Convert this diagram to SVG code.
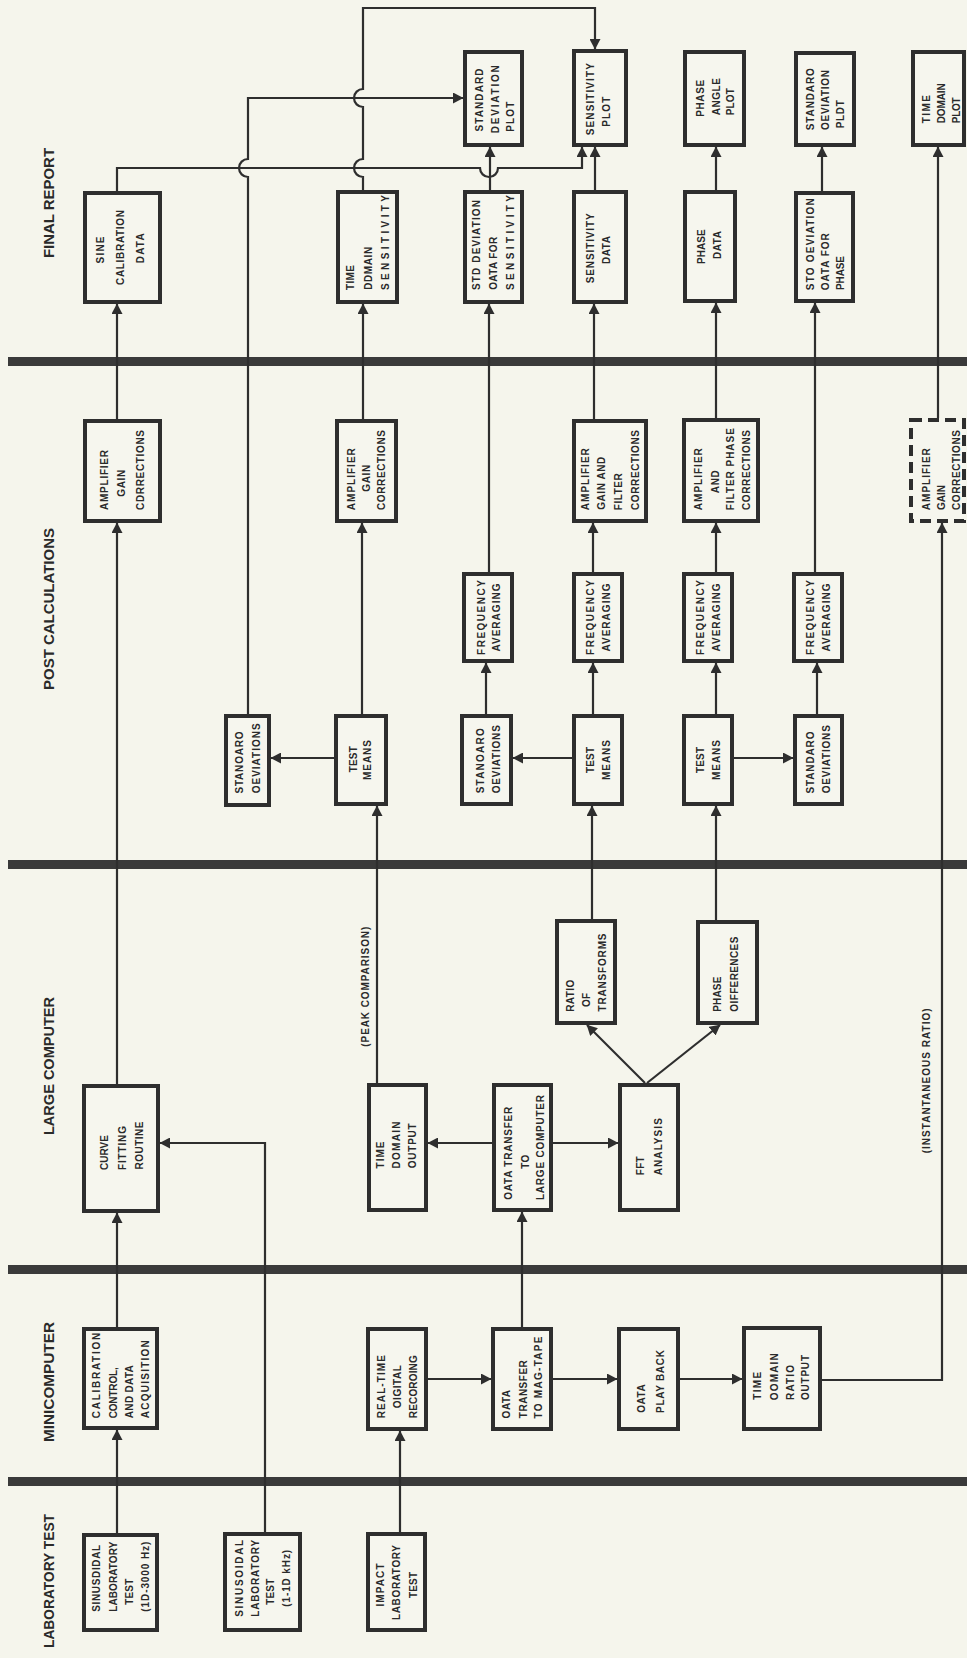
<svg xmlns="http://www.w3.org/2000/svg" width="967" height="1658" viewBox="0 0 967 1658">
<style>
.bg{fill:#f5f5ec}
.bar{fill:#3a3a3a}
.box{fill:#f6f6ee;stroke:#2e2e2e;stroke-width:4}
.dash{stroke-dasharray:11 6}
.t{font-family:"Liberation Sans",Arial,sans-serif;font-weight:bold;font-size:10px;fill:#2a2a2a;text-anchor:middle}
.lane{font-size:14.5px}
.c{fill:none;stroke:#2e2e2e;stroke-width:2.2;marker-end:url(#ah)}
</style>
<defs>
<marker id="ah" viewBox="0 0 11 11" refX="10" refY="5.5" markerWidth="11" markerHeight="11" markerUnits="userSpaceOnUse" orient="auto"><path d="M0,0 L10.5,5.5 L0,11 z" fill="#2e2e2e"/></marker>
</defs>
<rect class="bg" x="0" y="0" width="967" height="1658"/>
<g id="lanes">
<rect class="bar" x="8" y="357" width="959" height="9"/>
<rect class="bar" x="8" y="860" width="959" height="9"/>
<rect class="bar" x="8" y="1265" width="959" height="9"/>
<rect class="bar" x="8" y="1477" width="959" height="9"/>
<text class="t lane" transform="translate(54.3,203) rotate(-90)" textLength="110" lengthAdjust="spacingAndGlyphs">FINAL REPORT</text>
<text class="t lane" transform="translate(54.3,609) rotate(-90)" textLength="162" lengthAdjust="spacingAndGlyphs">POST CALCULATIONS</text>
<text class="t lane" transform="translate(54.3,1066) rotate(-90)" textLength="138" lengthAdjust="spacingAndGlyphs">LARGE COMPUTER</text>
<text class="t lane" transform="translate(54.3,1382) rotate(-90)" textLength="120" lengthAdjust="spacingAndGlyphs">MINICOMPUTER</text>
<text class="t lane" transform="translate(54.3,1581) rotate(-90)" textLength="134" lengthAdjust="spacingAndGlyphs">LABORATORY TEST</text>
</g>
<g id="connectors">
<path class="c" d="M117,1533 V1430"/>
<path class="c" d="M117,1327 V1213"/>
<path class="c" d="M265,1532 V1143 H160"/>
<path class="c" d="M117,1084 V523"/>
<path class="c" d="M117,419 V304"/>
<path class="c" d="M117,191 V168 H480 A9,9 0 0 0 498,168 H582 V147"/>
<path class="c" d="M400,1532 V1431"/>
<path class="c" d="M428,1379 H491"/>
<path class="c" d="M553,1379 H617"/>
<path class="c" d="M680,1379 H742"/>
<path class="c" d="M822,1380 H942 V523"/>
<path class="c" d="M522,1327 V1212"/>
<path class="c" d="M492,1143 H428"/>
<path class="c" d="M553,1143 H618"/>
<path class="c" d="M645,1083 L587,1025"/>
<path class="c" d="M647,1083 L720,1025"/>
<path class="c" d="M377,1083 V806"/>
<path class="c" d="M592,919 V806"/>
<path class="c" d="M716,920 V806"/>
<path class="c" d="M362,714 V523"/>
<path class="c" d="M334,758 H271"/>
<path class="c" d="M363,419 V304"/>
<path class="c" d="M363,190 V177 A9,9 0 0 1 363,159 V107 A9,9 0 0 1 363,89 V8 H595 V49"/>
<path class="c" d="M248,714 V177 A9,9 0 0 1 248,159 V98 H463"/>
<path class="c" d="M486,714 V663"/>
<path class="c" d="M489,572 V304"/>
<path class="c" d="M490,190 V147"/>
<path class="c" d="M572,758 H513"/>
<path class="c" d="M593,714 V663"/>
<path class="c" d="M593,572 V523"/>
<path class="c" d="M594,419 V304"/>
<path class="c" d="M595,190 V147"/>
<path class="c" d="M716,714 V663"/>
<path class="c" d="M716,572 V523"/>
<path class="c" d="M716,418 V303"/>
<path class="c" d="M716,190 V147"/>
<path class="c" d="M734,758 H793"/>
<path class="c" d="M817,714 V663"/>
<path class="c" d="M815,572 V303"/>
<path class="c" d="M822,191 V147"/>
<path class="c" d="M938,418 V147"/>
<text class="t" transform="translate(368.6,986.7) rotate(-90)" textLength="120" lengthAdjust="spacing">(PEAK COMPARISON)</text>
<text class="t" transform="translate(930.3,1080.8) rotate(-90)" textLength="145" lengthAdjust="spacing">(INSTANTANEOUS RATIO)</text>
</g>
<g id="sine-calibration-data"><rect class="box" x="85" y="193" width="75" height="109"/>
<text class="t" transform="translate(103.6,250) rotate(-90)" textLength="27" lengthAdjust="spacing">SINE</text>
<text class="t" transform="translate(124.3,247.5) rotate(-90)" textLength="75" lengthAdjust="spacing">CALIBRATION</text>
<text class="t" transform="translate(143.6,248.3) rotate(-90)" textLength="30" lengthAdjust="spacing">DATA</text></g>
<g id="std-deviation-plot-1"><rect class="box" x="465" y="52" width="57" height="93"/>
<text class="t" transform="translate(482.9,100) rotate(-90)" textLength="63" lengthAdjust="spacing">STANDARD</text>
<text class="t" transform="translate(498.6,99.2) rotate(-90)" textLength="68" lengthAdjust="spacing">DEVIATION</text>
<text class="t" transform="translate(513.6,116.7) rotate(-90)" textLength="30" lengthAdjust="spacing">PLOT</text></g>
<g id="sensitivity-plot"><rect class="box" x="574" y="51" width="52" height="94"/>
<text class="t" transform="translate(593.6,99.2) rotate(-90)" textLength="72" lengthAdjust="spacing">SENSITIVITY</text>
<text class="t" transform="translate(610.3,111.7) rotate(-90)" textLength="30" lengthAdjust="spacing">PLOT</text></g>
<g id="time-domain-sensitivity"><rect class="box" x="338" y="192" width="59" height="110"/>
<text class="t" transform="translate(353.6,277.5) rotate(-90)" textLength="25" lengthAdjust="spacing">TIME</text>
<text class="t" transform="translate(371.9,268.3) rotate(-90)" textLength="43" lengthAdjust="spacing">DDMAIN</text>
<text class="t" transform="translate(388.6,242.5) rotate(-90)" textLength="95" lengthAdjust="spacing">SENSITIVITY</text></g>
<g id="std-deviation-data-sensitivity"><rect class="box" x="465" y="192" width="57" height="110"/>
<text class="t" transform="translate(480.3,245) rotate(-90)" textLength="90" lengthAdjust="spacing">STD DEVIATION</text>
<text class="t" transform="translate(496.9,263.3) rotate(-90)" textLength="53" lengthAdjust="spacing">OATA FOR</text>
<text class="t" transform="translate(513.6,242.5) rotate(-90)" textLength="95" lengthAdjust="spacing">SENSITIVITY</text></g>
<g id="sensitivity-data"><rect class="box" x="574" y="192" width="52" height="110"/>
<text class="t" transform="translate(593.6,248.3) rotate(-90)" textLength="70" lengthAdjust="spacing">SENSITIVITY</text>
<text class="t" transform="translate(609.6,250) rotate(-90)" textLength="28" lengthAdjust="spacing">DATA</text></g>
<g id="phase-angle-plot"><rect class="box" x="685" y="52" width="59" height="93"/>
<text class="t" transform="translate(703.6,98.3) rotate(-90)" textLength="37" lengthAdjust="spacing">PHASE</text>
<text class="t" transform="translate(720.3,96.7) rotate(-90)" textLength="37" lengthAdjust="spacing">ANGLE</text>
<text class="t" transform="translate(733.6,101.7) rotate(-90)" textLength="27" lengthAdjust="spacing">PLOT</text></g>
<g id="std-deviation-plot-2"><rect class="box" x="796" y="53" width="58" height="92"/>
<text class="t" transform="translate(813.6,99.2) rotate(-90)" textLength="62" lengthAdjust="spacing">STANDARO</text>
<text class="t" transform="translate(828.6,100) rotate(-90)" textLength="60" lengthAdjust="spacing">OEVIATION</text>
<text class="t" transform="translate(843.6,114.2) rotate(-90)" textLength="28" lengthAdjust="spacing">PLDT</text></g>
<g id="time-domain-plot"><rect class="box" x="913" y="52" width="51" height="93"/>
<text class="t" transform="translate(929.6,109.2) rotate(-90)" textLength="28" lengthAdjust="spacing">TIME</text>
<text class="t" transform="translate(945.3,103.3) rotate(-90)" textLength="40" lengthAdjust="spacing">DOMAIN</text>
<text class="t" transform="translate(960.1,110.3) rotate(-90)" textLength="26" lengthAdjust="spacing">PLOT</text></g>
<g id="phase-data"><rect class="box" x="685" y="192" width="50" height="109"/>
<text class="t" transform="translate(705.3,246.7) rotate(-90)" textLength="34.5" lengthAdjust="spacing">PHASE</text>
<text class="t" transform="translate(720.9,245) rotate(-90)" textLength="28" lengthAdjust="spacing">DATA</text></g>
<g id="std-deviation-data-phase"><rect class="box" x="796" y="193" width="57" height="108"/>
<text class="t" transform="translate(813.6,244.2) rotate(-90)" textLength="92" lengthAdjust="spacing">STO OEVIATION</text>
<text class="t" transform="translate(828.6,261.7) rotate(-90)" textLength="57" lengthAdjust="spacing">OATA FOR</text>
<text class="t" transform="translate(843.6,273) rotate(-90)" textLength="34" lengthAdjust="spacing">PHASE</text></g>
<g id="amp-gain-corrections-1"><rect class="box" x="85" y="421" width="75" height="100"/>
<text class="t" transform="translate(107.9,480) rotate(-90)" textLength="60" lengthAdjust="spacing">AMPLIFIER</text>
<text class="t" transform="translate(125.3,483.3) rotate(-90)" textLength="27" lengthAdjust="spacing">GAIN</text>
<text class="t" transform="translate(143.6,470) rotate(-90)" textLength="80" lengthAdjust="spacing">CDRRECTIONS</text></g>
<g id="std-deviations-1"><rect class="box" x="226" y="716" width="43" height="89"/>
<text class="t" transform="translate(242.9,762.5) rotate(-90)" textLength="62" lengthAdjust="spacing">STANOARO</text>
<text class="t" transform="translate(260.3,758.3) rotate(-90)" textLength="70" lengthAdjust="spacing">OEVIATIONS</text></g>
<g id="amp-gain-corrections-2"><rect class="box" x="337" y="421" width="59" height="100"/>
<text class="t" transform="translate(355.3,479.2) rotate(-90)" textLength="62" lengthAdjust="spacing">AMPLIFIER</text>
<text class="t" transform="translate(370.3,478.3) rotate(-90)" textLength="27" lengthAdjust="spacing">GAIN</text>
<text class="t" transform="translate(385.3,470) rotate(-90)" textLength="80" lengthAdjust="spacing">CORRECTIONS</text></g>
<g id="test-means-1"><rect class="box" x="336" y="716" width="50" height="88"/>
<text class="t" transform="translate(356.9,759.2) rotate(-90)" textLength="26" lengthAdjust="spacing">TEST</text>
<text class="t" transform="translate(371.3,760) rotate(-90)" textLength="40" lengthAdjust="spacing">MEANS</text></g>
<g id="freq-averaging-1"><rect class="box" x="464" y="574" width="48" height="87"/>
<text class="t" transform="translate(485.3,617.5) rotate(-90)" textLength="75" lengthAdjust="spacing">FREQUENCY</text>
<text class="t" transform="translate(500.3,617.5) rotate(-90)" textLength="68" lengthAdjust="spacing">AVERAGING</text></g>
<g id="std-deviations-2"><rect class="box" x="462" y="716" width="49" height="88"/>
<text class="t" transform="translate(483.6,760.8) rotate(-90)" textLength="65" lengthAdjust="spacing">STANOARO</text>
<text class="t" transform="translate(499.6,759.2) rotate(-90)" textLength="68" lengthAdjust="spacing">OEVIATIONS</text></g>
<g id="freq-averaging-2"><rect class="box" x="574" y="574" width="48" height="87"/>
<text class="t" transform="translate(593.6,617.5) rotate(-90)" textLength="75" lengthAdjust="spacing">FREQUENCY</text>
<text class="t" transform="translate(609.6,617.5) rotate(-90)" textLength="68" lengthAdjust="spacing">AVERAGING</text></g>
<g id="test-means-2"><rect class="box" x="574" y="716" width="48" height="88"/>
<text class="t" transform="translate(593.6,760) rotate(-90)" textLength="26" lengthAdjust="spacing">TEST</text>
<text class="t" transform="translate(609.6,760) rotate(-90)" textLength="40" lengthAdjust="spacing">MEANS</text></g>
<g id="amp-gain-filter-corrections"><rect class="box" x="574" y="421" width="72" height="100"/>
<text class="t" transform="translate(588.6,479.2) rotate(-90)" textLength="62" lengthAdjust="spacing">AMPLIFIER</text>
<text class="t" transform="translate(605.3,483.3) rotate(-90)" textLength="53" lengthAdjust="spacing">GAIN AND</text>
<text class="t" transform="translate(621.9,491.7) rotate(-90)" textLength="37" lengthAdjust="spacing">FILTER</text>
<text class="t" transform="translate(638.6,470) rotate(-90)" textLength="80" lengthAdjust="spacing">CORRECTIONS</text></g>
<g id="amp-filter-phase-corrections"><rect class="box" x="684" y="420" width="74" height="101"/>
<text class="t" transform="translate(701.9,479.2) rotate(-90)" textLength="62" lengthAdjust="spacing">AMPLIFIER</text>
<text class="t" transform="translate(718.6,481.7) rotate(-90)" textLength="23" lengthAdjust="spacing">AND</text>
<text class="t" transform="translate(734.3,469.2) rotate(-90)" textLength="82" lengthAdjust="spacing">FILTER PHASE</text>
<text class="t" transform="translate(749.6,470) rotate(-90)" textLength="80" lengthAdjust="spacing">CORRECTIONS</text></g>
<g id="freq-averaging-3"><rect class="box" x="684" y="574" width="48" height="87"/>
<text class="t" transform="translate(703.6,617.5) rotate(-90)" textLength="75" lengthAdjust="spacing">FREQUENCY</text>
<text class="t" transform="translate(720.3,617.5) rotate(-90)" textLength="68" lengthAdjust="spacing">AVERAGING</text></g>
<g id="test-means-3"><rect class="box" x="684" y="716" width="48" height="88"/>
<text class="t" transform="translate(703.6,760) rotate(-90)" textLength="26" lengthAdjust="spacing">TEST</text>
<text class="t" transform="translate(719.6,760) rotate(-90)" textLength="40" lengthAdjust="spacing">MEANS</text></g>
<g id="freq-averaging-4"><rect class="box" x="794" y="574" width="48" height="87"/>
<text class="t" transform="translate(813.6,617.5) rotate(-90)" textLength="75" lengthAdjust="spacing">FREQUENCY</text>
<text class="t" transform="translate(829.6,617.5) rotate(-90)" textLength="68" lengthAdjust="spacing">AVERAGING</text></g>
<g id="std-deviations-3"><rect class="box" x="795" y="716" width="47" height="88"/>
<text class="t" transform="translate(813.6,762.5) rotate(-90)" textLength="62" lengthAdjust="spacing">STANDARO</text>
<text class="t" transform="translate(830.3,759.2) rotate(-90)" textLength="68" lengthAdjust="spacing">OEVIATIONS</text></g>
<g id="amp-gain-corrections-dashed"><rect class="box dash" x="911" y="420" width="53" height="101"/>
<text class="t" transform="translate(929.6,479.2) rotate(-90)" textLength="62" lengthAdjust="spacing">AMPLIFIER</text>
<text class="t" transform="translate(945.3,497.5) rotate(-90)" textLength="25" lengthAdjust="spacing">GAIN</text>
<text class="t" transform="translate(960.1,470) rotate(-90)" textLength="80" lengthAdjust="spacing">CORRECTIONS</text></g>
<g id="curve-fitting-routine"><rect class="box" x="84" y="1086" width="74" height="125"/>
<text class="t" transform="translate(107.6,1152.5) rotate(-90)" textLength="35" lengthAdjust="spacing">CURVE</text>
<text class="t" transform="translate(126.3,1148) rotate(-90)" textLength="44" lengthAdjust="spacing">FITTING</text>
<text class="t" transform="translate(142.9,1145.5) rotate(-90)" textLength="48" lengthAdjust="spacing">ROUTINE</text></g>
<g id="time-domain-output"><rect class="box" x="369" y="1085" width="57" height="125"/>
<text class="t" transform="translate(384.3,1155) rotate(-90)" textLength="27" lengthAdjust="spacing">TIME</text>
<text class="t" transform="translate(400.3,1145) rotate(-90)" textLength="47" lengthAdjust="spacing">DOMAIN</text>
<text class="t" transform="translate(416.3,1145.8) rotate(-90)" textLength="45" lengthAdjust="spacing">OUTPUT</text></g>
<g id="data-transfer-large-computer"><rect class="box" x="494" y="1085" width="57" height="125"/>
<text class="t" transform="translate(511.9,1153.3) rotate(-90)" textLength="93" lengthAdjust="spacing">OATA TRANSFER</text>
<text class="t" transform="translate(528.6,1161.7) rotate(-90)" textLength="14" lengthAdjust="spacing">TO</text>
<text class="t" transform="translate(543.6,1147.5) rotate(-90)" textLength="105" lengthAdjust="spacing">LARGE COMPUTER</text></g>
<g id="fft-analysis"><rect class="box" x="620" y="1085" width="58" height="125"/>
<text class="t" transform="translate(643.6,1165.8) rotate(-90)" textLength="19" lengthAdjust="spacing">FFT</text>
<text class="t" transform="translate(661.9,1146.7) rotate(-90)" textLength="57" lengthAdjust="spacing">ANALYSIS</text></g>
<g id="ratio-of-transforms"><rect class="box" x="557" y="921" width="58" height="102"/>
<text class="t" transform="translate(573.6,995.8) rotate(-90)" textLength="32" lengthAdjust="spacing">RATIO</text>
<text class="t" transform="translate(590.3,1000) rotate(-90)" textLength="14" lengthAdjust="spacing">OF</text>
<text class="t" transform="translate(606.3,972.5) rotate(-90)" textLength="78" lengthAdjust="spacing">TRANSFORMS</text></g>
<g id="phase-differences"><rect class="box" x="698" y="922" width="59" height="101"/>
<text class="t" transform="translate(720.9,994.2) rotate(-90)" textLength="35" lengthAdjust="spacing">PHASE</text>
<text class="t" transform="translate(737.6,974.2) rotate(-90)" textLength="75" lengthAdjust="spacing">OIFFERENCES</text></g>
<g id="calibration-control"><rect class="box" x="84" y="1329" width="73" height="99"/>
<text class="t" transform="translate(100.3,1373.3) rotate(-90)" textLength="90" lengthAdjust="spacing">CALIBRATION,</text>
<text class="t" transform="translate(116.9,1392.8) rotate(-90)" textLength="51" lengthAdjust="spacing">CONTROL,</text>
<text class="t" transform="translate(132.9,1391.7) rotate(-90)" textLength="53" lengthAdjust="spacing">AND DATA</text>
<text class="t" transform="translate(148.6,1379.2) rotate(-90)" textLength="78" lengthAdjust="spacing">ACQUISITION</text></g>
<g id="sinusoidal-test-1"><rect class="box" x="84" y="1535" width="73" height="95"/>
<text class="t" transform="translate(100.3,1578.3) rotate(-90)" textLength="67" lengthAdjust="spacing">SINUSDIDAL</text>
<text class="t" transform="translate(116.9,1576.7) rotate(-90)" textLength="70" lengthAdjust="spacing">LABORATORY</text>
<text class="t" transform="translate(132.9,1591.7) rotate(-90)" textLength="26" lengthAdjust="spacing">TEST</text>
<text class="t" transform="translate(148.6,1576.7) rotate(-90)" textLength="70" lengthAdjust="spacing">(1D-3000 Hz)</text></g>
<g id="sinusoidal-test-2"><rect class="box" x="225" y="1534" width="75" height="96"/>
<text class="t" transform="translate(242.9,1578.3) rotate(-90)" textLength="77" lengthAdjust="spacing">SINUSOIDAL</text>
<text class="t" transform="translate(258.6,1578.3) rotate(-90)" textLength="77" lengthAdjust="spacing">LABORATORY</text>
<text class="t" transform="translate(274.3,1591.7) rotate(-90)" textLength="26" lengthAdjust="spacing">TEST</text>
<text class="t" transform="translate(290.3,1578.3) rotate(-90)" textLength="57" lengthAdjust="spacing">(1-1D kHz)</text></g>
<g id="real-time-recording"><rect class="box" x="368" y="1329" width="58" height="100"/>
<text class="t" transform="translate(385.3,1386.7) rotate(-90)" textLength="63" lengthAdjust="spacing">REAL-TIME</text>
<text class="t" transform="translate(400.9,1386.7) rotate(-90)" textLength="43" lengthAdjust="spacing">OIGITAL</text>
<text class="t" transform="translate(416.9,1386.7) rotate(-90)" textLength="63" lengthAdjust="spacing">RECOROING</text></g>
<g id="data-transfer-mag-tape"><rect class="box" x="493" y="1329" width="58" height="100"/>
<text class="t" transform="translate(510.3,1404.2) rotate(-90)" textLength="28.5" lengthAdjust="spacing">OATA</text>
<text class="t" transform="translate(526.9,1389.2) rotate(-90)" textLength="58" lengthAdjust="spacing">TRANSFER</text>
<text class="t" transform="translate(541.9,1377.5) rotate(-90)" textLength="82" lengthAdjust="spacing">TO MAG-TAPE</text></g>
<g id="data-play-back"><rect class="box" x="619" y="1329" width="59" height="100"/>
<text class="t" transform="translate(645.3,1398.5) rotate(-90)" textLength="28.5" lengthAdjust="spacing">OATA</text>
<text class="t" transform="translate(664.3,1381.5) rotate(-90)" textLength="63" lengthAdjust="spacing">PLAY BACK</text></g>
<g id="time-domain-ratio-output"><rect class="box" x="744" y="1328" width="76" height="101"/>
<text class="t" transform="translate(760.9,1385.8) rotate(-90)" textLength="28" lengthAdjust="spacing">TIME</text>
<text class="t" transform="translate(777.6,1376.7) rotate(-90)" textLength="47" lengthAdjust="spacing">OOMAIN</text>
<text class="t" transform="translate(793.6,1382.5) rotate(-90)" textLength="35" lengthAdjust="spacing">RATIO</text>
<text class="t" transform="translate(809.3,1377.5) rotate(-90)" textLength="45" lengthAdjust="spacing">OUTPUT</text></g>
<g id="impact-test"><rect class="box" x="368" y="1534" width="57" height="96"/>
<text class="t" transform="translate(383.6,1585) rotate(-90)" textLength="43" lengthAdjust="spacing">IMPACT</text>
<text class="t" transform="translate(400.3,1582.5) rotate(-90)" textLength="75" lengthAdjust="spacing">LABORATORY</text>
<text class="t" transform="translate(416.9,1585) rotate(-90)" textLength="26" lengthAdjust="spacing">TEST</text></g>
</svg>
